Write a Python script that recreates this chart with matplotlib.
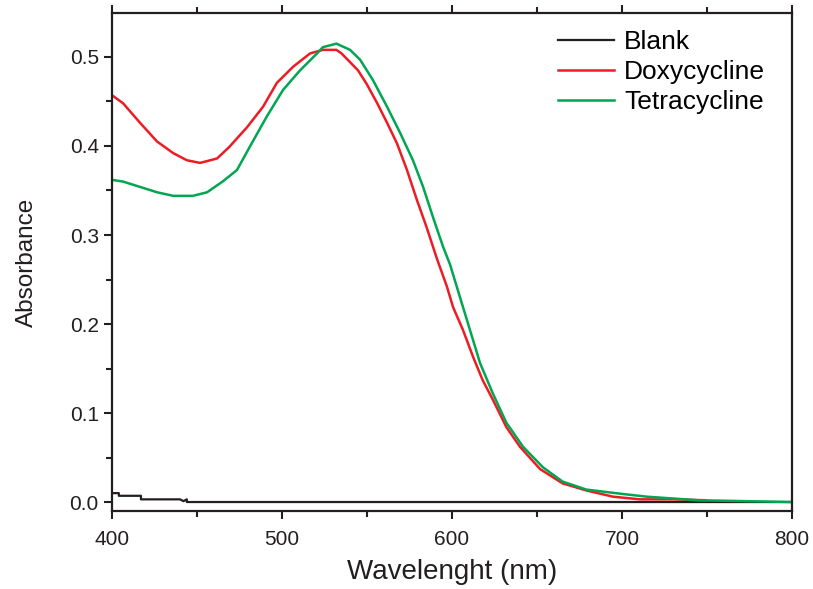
import numpy as np
import matplotlib.pyplot as plt
from matplotlib.ticker import MultipleLocator, FormatStrFormatter

plt.rcParams['font.family'] = ['Liberation Sans', 'DejaVu Sans']

# Blank
blank_wl = [400, 404, 404, 417, 417, 440, 442, 444, 444, 800]
blank_abs = [0.010, 0.010, 0.007, 0.007, 0.003, 0.003, 0.001, 0.003, 0.000, 0.000]

# Doxycycline
doxy_wl = [400, 406.5, 416.5, 426.5, 436, 444, 451.8, 461.8, 469, 479.4, 488.8, 497,
           506.5, 516.5, 524, 532, 535, 544.7, 550, 556, 561.8, 567.6, 573.5, 579.4,
           585, 591, 597, 600.6, 606.5, 612.4, 618, 624, 632, 640, 651.8, 665, 679,
           694.7, 710.6, 730, 749]
doxy_abs = [0.457, 0.448, 0.426, 0.405, 0.392, 0.384, 0.381, 0.386, 0.399, 0.421, 0.444, 0.471,
            0.489, 0.504, 0.508, 0.508, 0.504, 0.485, 0.469, 0.448, 0.426, 0.403, 0.373, 0.339,
            0.309, 0.274, 0.242, 0.219, 0.193, 0.163, 0.137, 0.115, 0.084, 0.062, 0.037, 0.021, 0.013,
            0.006, 0.003, 0.003, 0.002]

# Tetracycline
tetra_wl = [400, 406.5, 416.5, 426.5, 436, 447.6, 455.9, 465, 473.5, 481, 491, 500.6,
            510.6, 520.6, 524, 532, 540, 545.9, 553.5, 561.8, 569.4, 577, 583, 588.8,
            594.7, 598.8, 604.7, 610.6, 616.5, 624, 632, 641.8, 653.5, 665, 679, 700.6,
            714.7, 744.7, 800]
tetra_abs = [0.362, 0.360, 0.354, 0.348, 0.344, 0.344, 0.348, 0.360, 0.373, 0.399, 0.433, 0.463,
             0.485, 0.504, 0.511, 0.515, 0.508, 0.497, 0.474, 0.444, 0.415, 0.384, 0.354, 0.320,
             0.287, 0.267, 0.230, 0.193, 0.156, 0.122, 0.089, 0.062, 0.039, 0.023, 0.014, 0.009,
             0.006, 0.002, 0.000]

fig = plt.figure(figsize=(8.13, 5.89), dpi=100)
ax = fig.add_axes([0.1378, 0.1324, 0.8364, 0.8455])

ax.plot(blank_wl, blank_abs, color='#231F20', lw=1.6, label='Blank')
ax.plot(doxy_wl, doxy_abs, color='#ED1C24', lw=1.8, label='Doxycycline')
ax.plot(tetra_wl, tetra_abs, color='#00A651', lw=1.8, label='Tetracycline')

ax.set_xlim(400, 800)
ax.set_ylim(-0.0101, 0.5494)
ax.xaxis.set_major_locator(MultipleLocator(100))
ax.xaxis.set_minor_locator(MultipleLocator(50))
ax.yaxis.set_major_locator(MultipleLocator(0.1))
ax.yaxis.set_minor_locator(MultipleLocator(0.05))
ax.yaxis.set_major_formatter(FormatStrFormatter('%.1f'))

for s in ax.spines.values():
    s.set_linewidth(1.6)
    s.set_color('#231F20')

ax.tick_params(which='major', direction='out', length=6, width=1.5, labelsize=15,
               colors='#231F20', top=True, right=False)
ax.tick_params(which='minor', direction='out', length=4, width=1.5,
               colors='#231F20', top=True, right=False)
ax.tick_params(axis='x', which='both', top=True)
ax.tick_params(axis='x', which='major', pad=8)

ax.set_xlabel('Wavelenght (nm)', fontsize=20, color='#231F20', labelpad=7)
ax.set_ylabel('Absorbance', fontsize=17.5, color='#231F20', labelpad=23)

ax.legend(loc='upper left', bbox_to_anchor=(0.656, 0.965), frameon=False,
          fontsize=19, handlelength=2.1, handletextpad=0.4, labelspacing=0.22,
          borderpad=0, borderaxespad=0)

plt.savefig('out.png', dpi=100)
